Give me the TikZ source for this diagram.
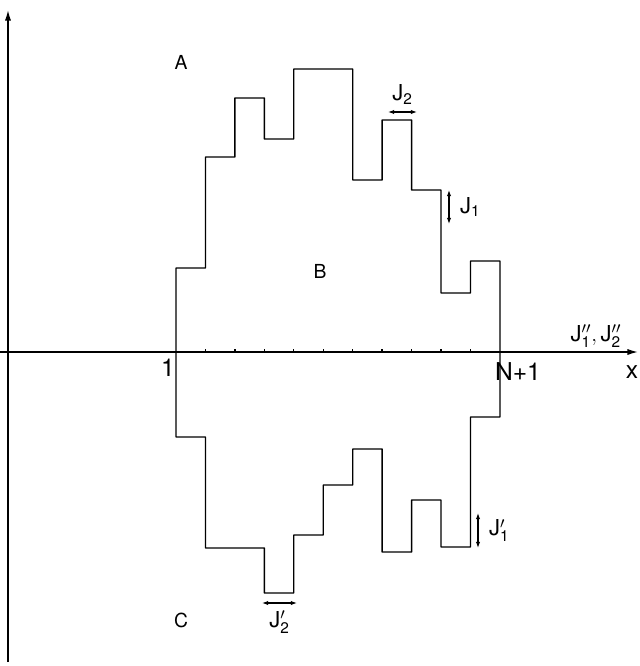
\documentclass[tikz,border=0pt]{standalone}
\usepackage{fontspec}
\setmainfont{TeX Gyre Heros}
\usetikzlibrary{arrows.meta, positioning}
\newcommand{\colw}{29.45}

\begin{document}
\begin{tikzpicture}[
  x=0.02cm, y=-0.02cm,
  axis/.style={line width=0.8pt, -{Latex[length=6pt,width=3.5pt]}},
  prof/.style={line width=0.75pt, line join=round},
  dbl/.style={line width=0.7pt, {Latex[length=3.5pt,width=2.5pt]}-{Latex[length=3.5pt,width=2.5pt]}},
  lbl/.style={font=\fontsize{11}{13}\selectfont, inner sep=1pt},
  jlbl/.style={font=\fontsize{12.5}{14}\selectfont, inner sep=1pt},
  big/.style={font=\fontsize{14}{16}\selectfont, inner sep=1pt}
]
\useasboundingbox (0,0) rectangle (639,666);

% axes
\coordinate (ybot)   at (8,662);
\coordinate (ytop)   at (8,10);
\coordinate (xleft)  at (0,352);
\coordinate (xright) at (638,352);
\draw[axis] (ybot) -- (ytop);
\draw[axis] (xleft) -- (xright);

% ticks
\foreach \k in {1,...,10}
  \draw[prof] ({176+\colw*\k},352) -- ++(0,-3);

% profiles
\draw[prof] (176,352) \foreach \h [count=\i] in {268,157,98,139,69,69,180,120,190,293,261}
  { |- ({176+\colw*\i},\h) } -- (500,352);
\draw[prof] (176,352) \foreach \h [count=\i] in {437,548,548,593,535,485,449,552,500,547,417}
  { |- ({176+\colw*\i},\h) } -- (500,352);

% regions
\node[lbl] (A) at (181,62)  {A};
\node[lbl] (B) at (320,271) {B};
\node[lbl] (C) at (181,620) {C};

% axis labels
\node[big] (one)   at (168,368) {1};
\node[big] (Nplus) at (518,372) {N+1};
\node[big] (xlab)  at (632,372) {x};
\node[jlbl] (Jaxis) at (596,336) {$\mathrm{J}''_{\mathrm{1}},\mathrm{J}''_{\mathrm{2}}$};

% couplings
\coordinate (j2a) at (388,112);
\coordinate (j2b) at (417,112);
\draw[dbl] (j2a) -- node[jlbl, above=3pt] (J2) {$\mathrm{J}_{\mathrm{2}}$} (j2b);

\coordinate (j1a) at (449,190);
\coordinate (j1b) at (449,224);
\draw[dbl] (j1a) -- node[jlbl, right=5pt] (J1) {$\mathrm{J}_{\mathrm{1}}$} (j1b);

\coordinate (k1a) at (478,513);
\coordinate (k1b) at (478,548);
\draw[dbl] (k1a) -- node[jlbl, right=5pt] (K1) {$\mathrm{J}'_{\mathrm{1}}$} (k1b);

\coordinate (k2a) at (262,603);
\coordinate (k2b) at (297,603);
\draw[dbl] (k2a) -- node[jlbl, below=3pt] (K2) {$\mathrm{J}'_{\mathrm{2}}$} (k2b);
\end{tikzpicture}
\end{document}
